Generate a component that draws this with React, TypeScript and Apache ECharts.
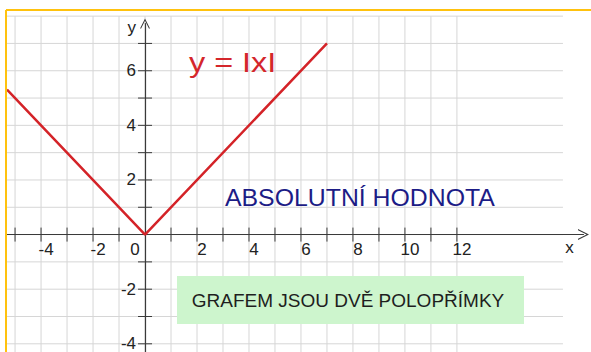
import React, { useEffect, useRef } from "react";
import * as echarts from "echarts";

// The function y = |x|, drawn as two half-lines meeting at the origin
const lineX = [-5.31, 0, 7];
const lineY = [5.31, 0, 7];

// Tick marks and tick labels on both axes
const xTickValues = [-5, -4, -3, -2, -1, 1, 2, 3, 4, 5, 6, 7, 8, 9, 10, 11, 12];
const yTickValues = [-4, -3, -2, -1, 1, 2, 3, 4, 5, 6, 7];
const xLabelValues = [-4, -2, 0, 2, 4, 6, 8, 10, 12];
const yLabelValues = [-4, -2, 2, 4, 6];

// Squared paper behind the axes
const vGridValues = [-5, -4, -3, -2, -1, 0, 1, 2, 3, 4, 5, 6, 7, 8, 9, 10, 11, 12];
const hGridValues = [-4, -3, -2, -1, 0, 1, 2, 3, 4, 5, 6, 7, 8];

const X_MIN = -5.31;
const X_MAX = 16.87;
const Y_MIN = -4.3;
const Y_MAX = 7.73;
const H_GRID_END = 16.08;
const V_GRID_TOP = 8;

// plot box inside the 591 x 352 canvas
const W = 591;
const H = 352;
const GRID = { left: 7, right: 7.5, top: 23.5, bottom: 0 };
const PLOT_W = W - GRID.left - GRID.right;
const PLOT_H = H - GRID.top - GRID.bottom;
// shift both axes from the plot edges onto the origin
const X_AXIS_OFFSET = -((0 - Y_MIN) / (Y_MAX - Y_MIN)) * PLOT_H;
const Y_AXIS_OFFSET = -((0 - X_MIN) / (X_MAX - X_MIN)) * PLOT_W;

const AXIS_COLOR = "#3a3a3a";
const GRID_COLOR = "#d6d6d6";
const FONT = "Liberation Sans, Arial, sans-serif";

// open chevron used as the arrow head of both axes
const CHEVRON = "path://M0,10 L5,0 L10,10 L8.9,10 L5,2.2 L1.1,10 Z";

export default function App() {
  const ref = useRef<HTMLDivElement>(null);

  useEffect(() => {
    if (!ref.current) return;
    const chart = echarts.init(ref.current, null, { renderer: "svg" });

    const gridLineSeries = (vertical: boolean) => ({
      type: "custom",
      clip: false,
      silent: true,
      z: 1,
      data: (vertical ? vGridValues : hGridValues).map((v) =>
        vertical ? [v, 0] : [0, v]
      ),
      renderItem: (params: any, api: any) => {
        const a = vertical
          ? api.coord([api.value(0), V_GRID_TOP])
          : api.coord([X_MIN, api.value(1)]);
        const b = vertical
          ? api.coord([api.value(0), Y_MIN])
          : api.coord([H_GRID_END, api.value(1)]);
        return {
          type: "line",
          shape: { x1: a[0], y1: a[1], x2: b[0], y2: b[1] },
          style: { stroke: GRID_COLOR, lineWidth: 1 },
        };
      },
    });

    const tickSeries = (onX: boolean) => ({
      type: "custom",
      clip: false,
      silent: true,
      z: 6,
      data: (onX ? xTickValues : yTickValues).map((v) => (onX ? [v, 0] : [0, v])),
      renderItem: (params: any, api: any) => {
        const p = api.coord([api.value(0), api.value(1)]);
        const half = 7;
        return {
          type: "line",
          shape: onX
            ? { x1: p[0], y1: p[1] - half, x2: p[0], y2: p[1] + half }
            : { x1: p[0] - half, y1: p[1], x2: p[0] + half, y2: p[1] },
          style: { stroke: AXIS_COLOR, lineWidth: 1 },
        };
      },
    });

    chart.setOption({
      animation: false,
      backgroundColor: "#ffffff",
      textStyle: { fontFamily: FONT },
      grid: {
        ...GRID,
        containLabel: false,
        outerBoundsMode: "none",
      },
      xAxis: {
        type: "value",
        position: "bottom",
        offset: X_AXIS_OFFSET,
        min: X_MIN,
        max: X_MAX,
        z: 5,
        name: "x",
        nameLocation: "end",
        nameGap: -14,
        nameTextStyle: {
          fontSize: 17,
          color: "#222",
          fontFamily: FONT,
          align: "center",
          verticalAlign: "top",
          padding: [4, 0, 0, 0],
        },
        axisLine: {
          show: true,
          onZero: false,
          symbol: ["none", CHEVRON],
          symbolSize: [11, 11],
          lineStyle: { color: AXIS_COLOR, width: 1.2 },
        },
        axisTick: { show: false },
        splitLine: { show: false },
        axisLabel: {
          show: true,
          customValues: xLabelValues,
          margin: 6,
          fontSize: 17,
          color: "#222",
          fontFamily: FONT,
          formatter: (v: number) => (v === 0 ? "{z|0}" : "{n|" + v + "}"),
          rich: {
            n: { fontSize: 17, color: "#222", fontFamily: FONT, padding: [0, 0, 0, 10] },
            z: { fontSize: 17, color: "#222", fontFamily: FONT, padding: [0, 20, 0, 0] },
          },
        },
      },
      yAxis: {
        type: "value",
        position: "left",
        offset: Y_AXIS_OFFSET,
        min: Y_MIN,
        max: Y_MAX,
        z: 5,
        name: "y",
        nameLocation: "end",
        nameGap: -4,
        nameTextStyle: {
          fontSize: 17,
          color: "#222",
          fontFamily: FONT,
          align: "right",
          verticalAlign: "middle",
          padding: [0, 9, 0, 0],
        },
        axisLine: {
          show: true,
          onZero: false,
          symbol: ["none", CHEVRON],
          symbolSize: [11, 10],
          lineStyle: { color: AXIS_COLOR, width: 1.2 },
        },
        axisTick: { show: false },
        splitLine: { show: false },
        axisLabel: {
          show: true,
          customValues: yLabelValues,
          margin: 9,
          fontSize: 17,
          color: "#222",
          fontFamily: FONT,
        },
      },
      graphic: [
        // yellow frame on the top and left edges
        {
          type: "line",
          z: 20,
          shape: { x1: 6, y1: 10, x2: 591, y2: 10 },
          style: { stroke: "#ffc20e", lineWidth: 2 },
        },
        {
          type: "line",
          z: 20,
          shape: { x1: 6, y1: 10, x2: 6, y2: 352 },
          style: { stroke: "#ffc20e", lineWidth: 2 },
        },
        {
          type: "text",
          z: 20,
          x: 189,
          y: 62,
          scaleX: 1.2,
          style: {
            text: "y = IxI",
            fill: "#d4262b",
            font: "27px " + FONT,
            textAlign: "left",
            textVerticalAlign: "middle",
          },
        },
        {
          type: "text",
          z: 20,
          x: 225,
          y: 198,
          scaleX: 1.08,
          style: {
            text: "ABSOLUTNÍ HODNOTA",
            fill: "#1c1c86",
            font: "23px " + FONT,
            textAlign: "left",
            textVerticalAlign: "middle",
          },
        },
        {
          type: "rect",
          z: 20,
          shape: { x: 177, y: 276, width: 347, height: 48 },
          style: { fill: "#cdf5cd" },
        },
        {
          type: "text",
          z: 21,
          x: 348,
          y: 300,
          style: {
            text: "GRAFEM JSOU DVĚ POLOPŘÍMKY",
            fill: "#1e1e1e",
            font: "19px " + FONT,
            textAlign: "center",
            textVerticalAlign: "middle",
          },
        },
      ],
      series: [
        gridLineSeries(true),
        gridLineSeries(false),
        tickSeries(true),
        tickSeries(false),
        {
          type: "line",
          z: 8,
          data: lineX.map((x, i) => [x, lineY[i]]),
          showSymbol: false,
          symbol: "none",
          lineStyle: { color: "#d42328", width: 2.5 },
        },
      ],
    });

    return () => chart.dispose();
  }, []);

  return (
    <div
      ref={ref}
      style={{ position: "fixed", left: 0, top: 0, width: W, height: H }}
    />
  );
}
